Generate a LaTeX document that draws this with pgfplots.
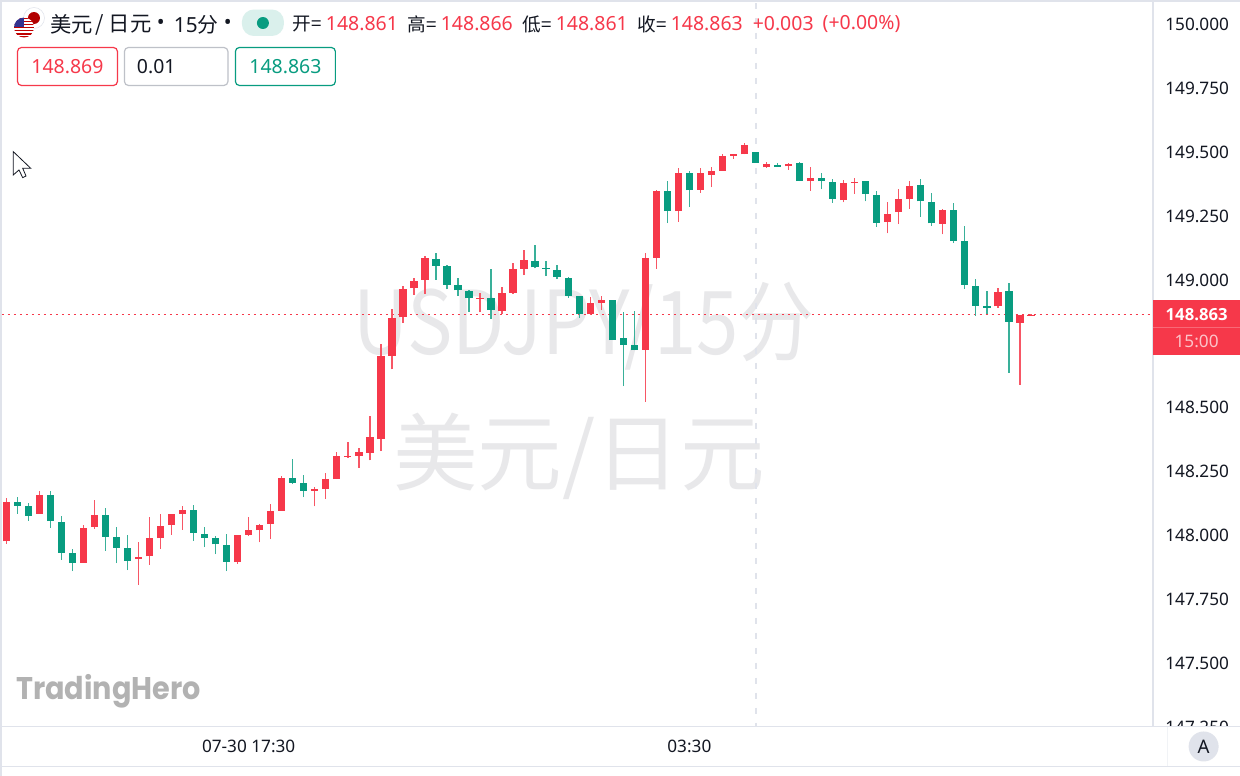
\documentclass[border=0pt]{standalone}
\usepackage{fontspec}
\setmainfont{Noto Sans}
\newfontfamily\cjk{Noto Sans CJK SC}
\newfontfamily\logofont{Poppins}
\newfontfamily\opensans{Open Sans}
\usepackage{pgfplots}
\usepackage{pgfplotstable}
\pgfplotsset{compat=1.18}
\definecolor{upred}{HTML}{F6384A}
\definecolor{downgreen}{HTML}{089C80}
\definecolor{uiline}{HTML}{E0E3EB}
\definecolor{wm}{HTML}{E8E8EA}
\definecolor{ink}{HTML}{131722}
% index open high low close
\pgfplotstableread{
x o h l c
0 147.975 148.144 147.966 148.131
3 148.083 148.172 148.083 148.157
7 147.891 148.039 147.891 148.028
8 148.032 148.136 148.025 148.078
12 147.906 147.972 147.806 147.915
13 147.917 148.070 147.883 147.990
14 147.988 148.083 147.946 148.037
15 148.041 148.083 148.002 148.083
16 148.084 148.113 148.021 148.097
21 147.894 148.002 147.888 147.999
22 148.001 148.072 147.997 148.018
23 148.018 148.045 147.971 148.039
24 148.044 148.122 147.984 148.095
25 148.095 148.232 148.095 148.223
28 148.173 148.187 148.112 148.180
29 148.180 148.244 148.143 148.219
30 148.219 148.325 148.219 148.310
31 148.305 148.363 148.302 148.311
32 148.311 148.342 148.263 148.324
33 148.323 148.464 148.292 148.383
34 148.375 148.747 148.328 148.701
35 148.701 148.886 148.648 148.850
36 148.853 148.976 148.830 148.963
37 148.966 149.005 148.940 148.995
38 149.000 149.092 148.945 149.083
43 148.924 148.948 148.872 148.929
45 148.878 148.970 148.865 148.949
46 148.948 149.066 148.944 149.040
47 149.042 149.116 149.017 149.076
53 148.864 148.931 148.863 148.907
54 148.910 148.936 148.880 148.921
58 148.725 149.103 148.522 149.085
59 149.086 149.351 149.043 149.347
61 149.268 149.437 149.227 149.417
63 149.351 149.437 149.340 149.416
64 149.410 149.439 149.362 149.425
65 149.425 149.490 149.425 149.485
66 149.484 149.491 149.473 149.490
67 149.490 149.533 149.490 149.528
69 149.439 149.459 149.437 149.452
71 149.443 149.455 149.430 149.453
73 149.385 149.439 149.347 149.396
76 149.311 149.389 149.302 149.377
77 149.379 149.396 149.335 149.383
80 149.225 149.302 149.181 149.256
81 149.264 149.353 149.217 149.317
82 149.315 149.386 149.276 149.365
85 149.219 149.275 149.177 149.272
90 148.895 148.966 148.889 148.953
92 148.831 148.861 148.589 148.861
93 148.861 148.866 148.861 148.863
}\uptable
\pgfplotstableread{
x o h l c
1 148.131 148.148 148.083 148.114
2 148.112 148.125 148.056 148.076
4 148.157 148.172 148.028 148.054
5 148.050 148.075 147.904 147.930
6 147.928 147.946 147.859 147.890
9 148.078 148.106 147.939 147.993
10 147.993 148.031 147.890 147.950
11 147.949 148.001 147.863 147.899
17 148.097 148.118 147.977 148.009
18 148.005 148.031 147.953 147.990
19 147.989 147.998 147.925 147.963
20 147.960 148.003 147.859 147.895
26 148.223 148.297 148.199 148.204
27 148.203 148.234 148.148 148.174
39 149.082 149.103 149.000 149.054
40 149.052 149.058 148.961 148.980
41 148.979 149.005 148.937 148.958
42 148.955 148.959 148.873 148.927
44 148.927 149.043 148.847 148.880
48 149.073 149.134 149.044 149.048
49 149.047 149.074 149.013 149.042
50 149.039 149.057 149.002 149.009
51 149.005 149.009 148.928 148.936
52 148.935 148.936 148.850 148.864
55 148.920 148.921 148.763 148.763
56 148.773 148.873 148.583 148.745
57 148.745 148.876 148.723 148.723
60 149.347 149.387 149.221 149.268
62 149.417 149.426 149.284 149.349
68 149.498 149.500 149.457 149.457
70 149.447 149.455 149.442 149.442
72 149.455 149.461 149.385 149.385
74 149.398 149.416 149.353 149.385
75 149.382 149.392 149.300 149.317
78 149.385 149.387 149.306 149.334
79 149.330 149.347 149.207 149.223
83 149.369 149.395 149.246 149.306
84 149.304 149.339 149.211 149.220
86 149.271 149.299 149.142 149.150
87 149.150 149.210 148.964 148.979
88 148.976 149.002 148.859 148.897
89 148.897 148.954 148.865 148.890
91 148.955 148.987 148.636 148.834
}\downtable
\newcommand{\fs}[1]{\fontsize{#1}{#1}\selectfont}
\tikzset{T/.style={inner sep=0pt,outer sep=0pt,anchor=west,text=ink}}
\begin{document}
\begin{tikzpicture}
% page frame and watermarks, behind the chart
\begin{scope}[x=0.75pt,y=-0.75pt]
\path[use as bounding box] (0,0) rectangle (1240,776);
\fill[white] (0,0) rectangle (1240,776);
\node[inner sep=0pt,anchor=west,text=wm,xscale=.865,transform shape] at (353,326) {\fs{66}\cjk USDJPY/15分};
\node[inner sep=0pt,anchor=west,text=wm] at (393,456) {\fs{63.5}\cjk 美元/日元};
\draw[uiline,line width=0.9pt,dash pattern=on 4.5pt off 6.75pt] (756.3,3) -- (756.3,727);
\end{scope}
\begin{axis}[
  at={(1.5pt,-545.25pt)}, anchor=south west,
  scale only axis, width=863.25pt, height=543.75pt,
  xmin=-0.39, xmax=104.05, ymin=147.2496, ymax=150.0861,
  axis line style={draw=none}, clip=false,
  ytick={147.25,147.5,147.75,148,148.25,148.5,149,149.25,149.5,149.75,150},
  ymajorgrids=false, xmajorgrids=false,
  major tick length=0pt,
  yticklabel pos=right,
  /pgf/number format/assume math mode=true,
  /pgf/number format/fixed, /pgf/number format/fixed zerofill, /pgf/number format/precision=3,
  /pgf/number format/1000 sep={},
  yticklabel style={anchor=west, xshift=6pt, yshift=-0.4pt, font=\fs{12.9}, text=ink},
  xtick={22,62}, xticklabels={07-30 17:30,03:30},
  xticklabel style={anchor=center, yshift=-15pt, font=\fs{12.9}, text=ink},
  candle/.style 2 args={draw=none, no markers, forget plot, error bars/.cd, y dir=plus, y explicit, error mark=none, error bar style={draw=#1, line width=#2, solid}},
]
\addplot[forget plot, upred, line width=0.75pt, dash pattern=on 1.5pt off 3pt] coordinates {(-0.39,148.863) (104.05,148.863)};
\addplot[candle={upred!85!white}{1pt}] table[x=x, y=l, y error plus expr=\thisrow{h}-\thisrow{l}] {\uptable};
\addplot[candle={upred}{5.5pt}] table[x=x, y=o, y error plus expr=\thisrow{c}-\thisrow{o}] {\uptable};
\addplot[candle={downgreen!80!white}{1pt}] table[x=x, y=l, y error plus expr=\thisrow{h}-\thisrow{l}] {\downtable};
\addplot[candle={downgreen}{5.5pt}] table[x=x, y=c, y error plus expr=\thisrow{o}-\thisrow{c}] {\downtable};
\end{axis}
\begin{scope}[x=0.75pt,y=-0.75pt]
% price-scale corner hides the lower half of the last tick label
\fill[white] (1154,727) rectangle (1240,776);
\fill[uiline] (0,726) rectangle (1240,727.6);
\fill[uiline] (0,765.8) rectangle (1240,767.4);
\fill[uiline!45] (1167.7,727) rectangle (1168.7,766);
\fill[uiline] (0,0) rectangle (1240,2);
\fill[uiline] (0,0) rectangle (2,776);
\fill[uiline] (1152.8,0) rectangle (1154,727);
% last price label
\fill[upred] (1153.5,300) rectangle (1240,354.7);
\draw[white,opacity=.25,line width=.6pt] (1153.5,327.4) -- (1240,327.4);
\node[inner sep=0pt,text=white] at (1197,314.3) {\fs{12.5}\opensans\bfseries 148.863};
\node[inner sep=0pt,text=white,opacity=.7] at (1197,341) {\fs{12.9}15:00};
% auto button
\fill[uiline] (1204,746.7) circle (15);
\node[inner sep=0pt,text=ink] at (1204,746.7) {\fs{14}A};
% logo
\node[inner sep=0pt,anchor=west,text=black!30,xscale=.915,transform shape] at (16,691) {\fs{23.5}\logofont\bfseries TradingHero};
% flags
\fill[white] (34,18) circle (10.5);
\draw[uiline,line width=.4pt] (34,18) circle (10.5);
\fill[red!70!black] (34,18) circle (6);
\begin{scope}
\clip (24,27.5) circle (10);
\fill[white] (14,17) rectangle (34,38);
\foreach \yy in {17.5,20.6,23.7,26.8,29.9,33,36.1}{\fill[red!75!black] (14,\yy) rectangle (34,\yy+1.6);}
\fill[blue!45!black!80] (14,17) rectangle (24.5,27.5);
\end{scope}
% header text
\node[T] at (50.5,24.5) {\fs{16}\cjk 美元};
\node[T] at (96,24.5) {\fs{16}\cjk /};
\node[T] at (109,24.5) {\fs{16}\cjk 日元};
\node[T] at (157,24) {\fs{15.6}•};
\node[T] at (174,24.5) {\fs{15.6}15\cjk 分};
\node[T] at (224,24) {\fs{15.6}•};
\fill[downgreen!15] (242,9.5) [rounded corners=9pt] rectangle (284,36);
\fill[downgreen] (263,23) circle (6);
\node[T] at (293,24) {\fs{14}\cjk 开=};
\node[T,text=upred] at (326,24) {\fs{14.6}148.861};
\node[T] at (408,24) {\fs{14}\cjk 高=};
\node[T,text=upred] at (441,24) {\fs{14.6}148.866};
\node[T] at (523,24) {\fs{14}\cjk 低=};
\node[T,text=upred] at (556,24) {\fs{14.6}148.861};
\node[T] at (638,24) {\fs{14}\cjk 收=};
\node[T,text=upred] at (671,24) {\fs{14.6}148.863};
\node[T,text=upred] at (753,24) {\fs{14.6}+0.003};
\node[T,text=upred] at (823,24) {\fs{14.6}(+0.00\%)};
% order boxes
\draw[upred,line width=.9pt,rounded corners=3pt] (17.5,47.5) rectangle (117.5,85.5);
\node[inner sep=0pt,text=upred] at (67.5,66.5) {\fs{14.6}148.869};
\draw[uiline!85!black,line width=.9pt,rounded corners=3pt] (124.5,47.5) rectangle (228,85.5);
\node[T] at (137,66.5) {\fs{14.6}0.01};
\draw[downgreen,line width=.9pt,rounded corners=3pt] (235.5,47.5) rectangle (335.5,85.5);
\node[inner sep=0pt,text=downgreen] at (285.5,66.5) {\fs{14.6}148.863};
% cursor
\filldraw[fill=white,draw=ink,line width=.6pt] (13.3,151.7) -- (13.3,175) -- (19,170) -- (22.7,177.7) -- (26,176) -- (22.7,168.3) -- (30.7,168.3) -- cycle;
\end{scope}
\end{tikzpicture}
\end{document}
